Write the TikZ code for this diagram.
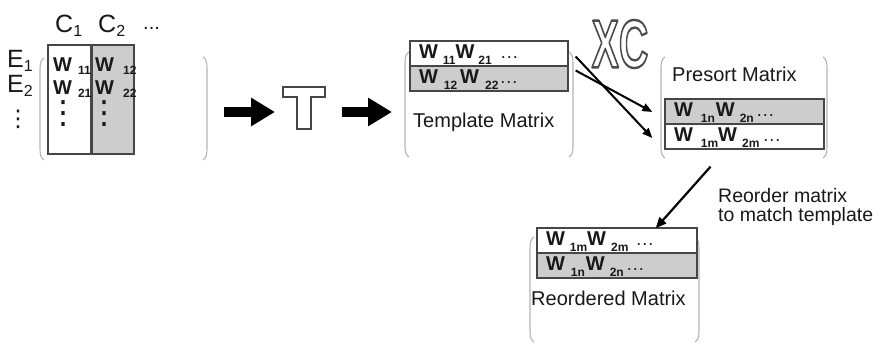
\documentclass[tikz,border=0pt]{standalone}
\usepackage{fontspec}
\setmainfont{Liberation Sans}
\newfontfamily\symfont{DejaVu Sans}
\usetikzlibrary{arrows.meta,calc}
\definecolor{cellgray}{RGB}{205,205,205}
\definecolor{boxline}{RGB}{70,70,70}
\definecolor{parengray}{RGB}{180,180,180}
\definecolor{ink}{RGB}{25,25,25}
\newcommand\subf{\fontsize{12}{12}\selectfont\bfseries}
\newcommand\wsub[2][6pt]{\textbf{W}\hspace{#1}\raisebox{-6pt}{\subf #2}}
\newcommand\wsubc[2]{\textbf{W}\hspace{#1}\raisebox{-3pt}{\subf #2}}
\newcommand\rowdots{{\fontsize{18}{18}\selectfont .\kern1pt.\kern1pt.}}
\newcommand\lpar[3]{\draw[paren] (#1+4,#2) .. controls (#1+0.5,#2+2) and (#1,#2+6) .. (#1,#2+12) -- (#1,#3-12) .. controls (#1,#3-6) and (#1+0.5,#3-2) .. (#1+4,#3);}
\newcommand\rpar[3]{\draw[paren] (#1-4,#2) .. controls (#1-0.5,#2+2) and (#1,#2+6) .. (#1,#2+12) -- (#1,#3-12) .. controls (#1,#3-6) and (#1-0.5,#3-2) .. (#1-4,#3);}
\newcommand\xcfont{\fontsize{68}{68}\selectfont\bfseries}
\newcommand\outlined[1]{\special{pdf:literal direct 1 Tr 2.4 w 1 J 1 j 0.3 0.3 0.3 RG}#1\special{pdf:literal direct 0 Tr}}
\begin{document}
\begin{tikzpicture}[x=1pt,y=-1pt,
  font=\fontsize{20}{22}\selectfont, text=ink,
  paren/.style={draw=parengray, line width=1.1pt},
  colbox/.style={draw=boxline, line width=1.3pt, inner sep=0pt, minimum height=109pt},
  rowbox/.style={draw=boxline, line width=1.3pt, inner xsep=9pt, inner ysep=0pt,
     minimum height=25pt, text width=#1-18pt, align=left, text height=15pt, text depth=4pt},
  lbl/.style={anchor=base west, inner sep=0pt},
  hdr/.style={anchor=base west, inner sep=0pt, font=\fontsize{25}{25}\selectfont},
  cellw/.style={anchor=base west, inner sep=0pt},
  vdot/.style={anchor=south, inner sep=0pt},
  blockarrow/.style={line width=10pt, -{Triangle[length=24pt,width=27pt]}, draw=black},
  thinarrow/.style={line width=2pt, draw=black, -{Triangle[length=10pt,width=8pt]}},
  tshape/.style={draw=boxline, line width=1.5pt, fill=white, line join=miter}]
\useasboundingbox (0,0) rectangle (883,344);
\fill[white] (0,0) rectangle (883,344);

% ---------- original matrix ----------
\node[hdr] (c1) at (55,33) {C\raisebox{-4pt}{\fontsize{16}{16}\selectfont 1}};
\node[hdr] (c2) at (98,33) {C\raisebox{-4pt}{\fontsize{16}{16}\selectfont 2}};
\node[lbl] (cdots) at (143,30) {...};
\node[hdr] (e1) at (7,68) {E\raisebox{-4pt}{\fontsize{16}{16}\selectfont 1}};
\node[hdr] (e2) at (7,93) {E\raisebox{-4pt}{\fontsize{16}{16}\selectfont 2}};
\node[vdot, font=\symfont\fontsize{23}{23}\selectfont] (edots) at (18,129) {⋮};
\lpar{40}{58}{160}
\rpar{207}{57}{160}
\node[colbox, fill=white, minimum width=43pt] (col1) at (69.5,99.5) {};
\node[colbox, fill=cellgray, minimum width=42pt] (col2) at (113,99.5) {};
\node[cellw] (w11) at (53,72) {\wsubc{6pt}{11}};
\node[cellw] (w21) at (53,95) {\wsubc{6pt}{21}};
\node[cellw] (w12) at (95,72) {\wsubc{9pt}{12}};
\node[cellw] (w22) at (95,95) {\wsubc{9pt}{22}};
\node[vdot, font=\symfont\fontsize{32}{32}\selectfont] (cd1) at (63,127) {⋮};
\node[vdot, font=\symfont\fontsize{32}{32}\selectfont] (cd2) at (104,127) {⋮};

% ---------- block arrows and T ----------
\coordinate (ba1s) at (224,112);
\coordinate (ba1e) at (275,112);
\coordinate (ba2s) at (342,112);
\coordinate (ba2e) at (392,112);
\draw[blockarrow] (ba1s) -- (ba1e);
\draw[tshape] (283,87) -- (325,87) -- (325,97) -- (311,97) -- (311,129) -- (297,129) -- (297,97) -- (283,97) -- cycle;
\draw[blockarrow] (ba2s) -- (ba2e);

% ---------- template matrix ----------
\lpar{405}{52}{157}
\rpar{573}{52}{157}
\node[rowbox=158pt, fill=white] (t1) at (489,53.5) {\wsub[5pt]{11}\wsub[4pt]{21}\hspace{9pt}\rowdots};
\node[rowbox=158pt, fill=cellgray] (t2) at (489,78.5) {\wsub{12}\hspace{3pt}\wsub{22}\hspace{2pt}\rowdots};
\node[lbl] (tlab) at (413,128) {Template Matrix};

% ---------- XC ----------
\node[font=\xcfont] (xc) at (620,44) {\scalebox{0.6}[1]{\outlined{XC}}};

% ---------- presort matrix ----------
\lpar{661}{57}{158}
\rpar{827}{57}{158}
\node[lbl] (plab) at (672,82) {Presort Matrix};
\node[rowbox=159pt, fill=cellgray] (p1) at (744.5,111.5) {\wsub[8pt]{1n}\hspace{1pt}\wsub[5pt]{2n}\hspace{3pt}\rowdots};
\node[rowbox=159pt, fill=white] (p2) at (744.5,136.5) {\wsub[8pt]{1m}\wsub[5pt]{2m}\hspace{4pt}\rowdots};

\draw[thinarrow] ($(t1.east)+(7,3)$) -- ($(p2.west)+(-12,1.5)$);
\draw[thinarrow] ($(t2.east)+(7,-8)$) -- ($(p1.west)+(-12,0.5)$);

% ---------- reordered matrix ----------
\lpar{530}{237}{342}
\rpar{699}{237}{342}
\node[rowbox=160pt, fill=white] (r1) at (617,240.5) {\wsub[5pt]{1m}\wsub[5pt]{2m}\hspace{8pt}\rowdots};
\node[rowbox=160pt, fill=cellgray] (r2) at (617,265.5) {\wsub[6pt]{1n}\hspace{1pt}\wsub[5pt]{2n}\hspace{3pt}\rowdots};
\node[lbl] (rlab) at (531,306) {Reordered Matrix};

\draw[line width=2.2pt, draw=black, -{Triangle[length=11pt,width=9pt]}] ($(p2.south)+(-34,17)$) -- ($(r1.north east)+(-42,1)$);
\node[anchor=north west, inner sep=0pt, align=left, font=\fontsize{19.5}{18.5}\selectfont] (note) at (718,188.5) {Reorder matrix\\to match template};
\end{tikzpicture}
\end{document}
